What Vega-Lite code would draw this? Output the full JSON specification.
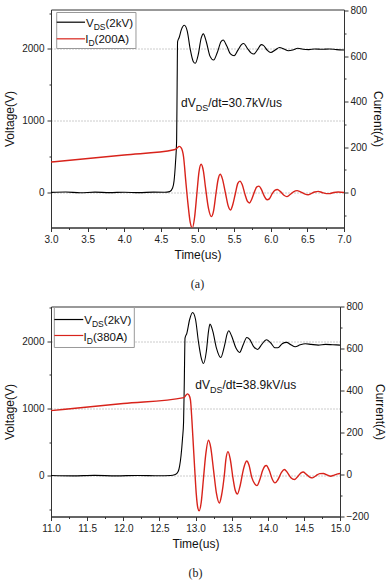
{
"$schema": "https://vega.github.io/schema/vega-lite/v6.json",
"padding": {"left": 3, "top": 4.5, "right": 2, "bottom": 2},
"config": {
  "font": "Liberation Sans",
  "view": {"stroke": "#333", "strokeWidth": 1},
  "axis": {"labelFont": "Liberation Sans", "labelFontSize": 10, "labelColor": "#222", "titleFont": "Liberation Sans", "titleFontSize": 12, "titleFontWeight": "normal", "titleColor": "#111", "domainColor": "#333", "tickColor": "#333", "grid": false, "labelFlush": false},
  "concat": {"spacing": 10},
  "title": {"font": "Liberation Serif", "fontSize": 12, "fontWeight": "normal", "color": "#222"}
},
"datasets": {
  "va": [{"t":3.0,"v":0},{"t":3.2,"v":5},{"t":3.4,"v":-5},{"t":3.6,"v":3},{"t":3.8,"v":-3},{"t":4.0,"v":2},{"t":4.2,"v":-4},{"t":4.4,"v":3},{"t":4.55,"v":2},{"t":4.62,"v":10},{"t":4.66,"v":60},{"t":4.68,"v":160},{"t":4.70,"v":420},{"t":4.715,"v":720},{"t":4.722,"v":1500},{"t":4.728,"v":2100},{"t":4.75,"v":2160},{"t":4.78,"v":2270},{"t":4.82,"v":2330},{"t":4.86,"v":2250},{"t":4.90,"v":2000},{"t":4.94,"v":1830},{"t":4.97,"v":1800},{"t":5.01,"v":1920},{"t":5.05,"v":2150},{"t":5.08,"v":2210},{"t":5.12,"v":2100},{"t":5.17,"v":1900},{"t":5.22,"v":1845},{"t":5.27,"v":1950},{"t":5.32,"v":2100},{"t":5.35,"v":2125},{"t":5.40,"v":2040},{"t":5.45,"v":1930},{"t":5.50,"v":1905},{"t":5.55,"v":1980},{"t":5.60,"v":2060},{"t":5.63,"v":2075},{"t":5.68,"v":2010},{"t":5.73,"v":1945},{"t":5.77,"v":1930},{"t":5.82,"v":1990},{"t":5.87,"v":2060},{"t":5.90,"v":2050},{"t":5.95,"v":1985},{"t":6.00,"v":1950},{"t":6.06,"v":1985},{"t":6.12,"v":2020},{"t":6.18,"v":2000},{"t":6.24,"v":1975},{"t":6.30,"v":1985},{"t":6.37,"v":2010},{"t":6.44,"v":1995},{"t":6.52,"v":1990},{"t":6.6,"v":2000},{"t":6.7,"v":1995},{"t":6.8,"v":2000},{"t":6.9,"v":1990},{"t":7.0,"v":1985}],
  "ia": [{"t":3.0,"a":134},{"t":4.0,"a":165},{"t":4.68,"a":188},{"t":4.72,"a":195},{"t":4.75,"a":203},{"t":4.78,"a":195},{"t":4.81,"a":156},{"t":4.84,"a":50},{"t":4.87,"a":-50},{"t":4.90,"a":-130},{"t":4.93,"a":-156},{"t":4.96,"a":-110},{"t":4.99,"a":-10},{"t":5.02,"a":90},{"t":5.05,"a":124},{"t":5.08,"a":95},{"t":5.11,"a":20},{"t":5.15,"a":-70},{"t":5.19,"a":-106},{"t":5.22,"a":-80},{"t":5.25,"a":-10},{"t":5.28,"a":55},{"t":5.31,"a":80},{"t":5.34,"a":60},{"t":5.38,"a":0},{"t":5.42,"a":-60},{"t":5.45,"a":-77},{"t":5.48,"a":-55},{"t":5.52,"a":0},{"t":5.55,"a":40},{"t":5.58,"a":50},{"t":5.61,"a":35},{"t":5.65,"a":-10},{"t":5.68,"a":-38},{"t":5.71,"a":-46},{"t":5.74,"a":-30},{"t":5.78,"a":5},{"t":5.81,"a":25},{"t":5.84,"a":28},{"t":5.87,"a":15},{"t":5.91,"a":-15},{"t":5.95,"a":-32},{"t":5.98,"a":-28},{"t":6.02,"a":-5},{"t":6.06,"a":10},{"t":6.09,"a":13},{"t":6.13,"a":5},{"t":6.18,"a":-12},{"t":6.22,"a":-18},{"t":6.26,"a":-10},{"t":6.31,"a":3},{"t":6.36,"a":8},{"t":6.40,"a":4},{"t":6.46,"a":-6},{"t":6.51,"a":-10},{"t":6.55,"a":-5},{"t":6.60,"a":2},{"t":6.65,"a":5},{"t":6.70,"a":0},{"t":6.76,"a":-5},{"t":6.80,"a":-5},{"t":6.86,"a":0},{"t":6.92,"a":2},{"t":7.0,"a":0}],
  "vb": [{"t":11.0,"v":0},{"t":11.3,"v":-5},{"t":11.6,"v":3},{"t":11.9,"v":-4},{"t":12.2,"v":2},{"t":12.5,"v":-3},{"t":12.65,"v":0},{"t":12.72,"v":15},{"t":12.76,"v":60},{"t":12.78,"v":140},{"t":12.80,"v":300},{"t":12.82,"v":550},{"t":12.835,"v":800},{"t":12.845,"v":1400},{"t":12.855,"v":2050},{"t":12.88,"v":2120},{"t":12.92,"v":2330},{"t":12.96,"v":2430},{"t":13.00,"v":2330},{"t":13.04,"v":2000},{"t":13.08,"v":1750},{"t":13.11,"v":1670},{"t":13.15,"v":1850},{"t":13.18,"v":2150},{"t":13.20,"v":2257},{"t":13.24,"v":2150},{"t":13.29,"v":1900},{"t":13.35,"v":1760},{"t":13.40,"v":1930},{"t":13.44,"v":2120},{"t":13.46,"v":2158},{"t":13.50,"v":2080},{"t":13.56,"v":1900},{"t":13.61,"v":1835},{"t":13.66,"v":1950},{"t":13.71,"v":2058},{"t":13.75,"v":2030},{"t":13.80,"v":1930},{"t":13.86,"v":1880},{"t":13.92,"v":1960},{"t":13.98,"v":2025},{"t":14.04,"v":1980},{"t":14.10,"v":1905},{"t":14.14,"v":1905},{"t":14.20,"v":1965},{"t":14.26,"v":1985},{"t":14.32,"v":1950},{"t":14.38,"v":1920},{"t":14.45,"v":1950},{"t":14.52,"v":1965},{"t":14.6,"v":1955},{"t":14.7,"v":1945},{"t":14.8,"v":1955},{"t":14.9,"v":1950},{"t":15.0,"v":1945}],
  "ib": [{"t":11.0,"a":304},{"t":12.0,"a":338},{"t":12.84,"a":366},{"t":12.87,"a":378},{"t":12.89,"a":384},{"t":12.91,"a":378},{"t":12.93,"a":355},{"t":12.95,"a":260},{"t":12.97,"a":140},{"t":12.99,"a":20},{"t":13.01,"a":-90},{"t":13.03,"a":-155},{"t":13.05,"a":-173},{"t":13.08,"a":-130},{"t":13.11,"a":-20},{"t":13.14,"a":90},{"t":13.18,"a":163},{"t":13.21,"a":130},{"t":13.25,"a":20},{"t":13.29,"a":-90},{"t":13.33,"a":-136},{"t":13.36,"a":-100},{"t":13.40,"a":0},{"t":13.42,"a":70},{"t":13.45,"a":109},{"t":13.48,"a":75},{"t":13.52,"a":-20},{"t":13.55,"a":-75},{"t":13.58,"a":-93},{"t":13.62,"a":-50},{"t":13.66,"a":20},{"t":13.69,"a":55},{"t":13.71,"a":64},{"t":13.74,"a":45},{"t":13.78,"a":-15},{"t":13.82,"a":-45},{"t":13.85,"a":-53},{"t":13.89,"a":-25},{"t":13.93,"a":20},{"t":13.96,"a":40},{"t":13.98,"a":43},{"t":14.02,"a":20},{"t":14.06,"a":-20},{"t":14.10,"a":-40},{"t":14.14,"a":-25},{"t":14.19,"a":10},{"t":14.23,"a":24},{"t":14.27,"a":10},{"t":14.32,"a":-15},{"t":14.37,"a":-24},{"t":14.41,"a":-12},{"t":14.46,"a":8},{"t":14.49,"a":12},{"t":14.53,"a":2},{"t":14.58,"a":-12},{"t":14.62,"a":-16},{"t":14.67,"a":-5},{"t":14.72,"a":4},{"t":14.77,"a":5},{"t":14.82,"a":-2},{"t":14.87,"a":-8},{"t":14.92,"a":-3},{"t":14.97,"a":3},{"t":15.0,"a":5}],
  "boxa": [{"t":3.078,"t2":4.16,"v":2508,"v2":2006}],
  "blka": [{"t":3.078,"t2":3.464,"v":2373}],
  "reda": [{"t":3.078,"t2":3.464,"v":2141}],
  "txta": [{"t":3.478,"v":2303,"s":"V"},{"t":3.744,"v":2303,"s":"(2kV)"},{"t":3.468,"v":2076,"s":"I"},{"t":3.595,"v":2076,"s":"(200A)"}],
  "suba": [{"t":3.583,"v":2303,"s":"DS"},{"t":3.512,"v":2076,"s":"D"}],
  "anna": [{"t":4.775,"v":1187,"s":"dV"},{"t":5.146,"v":1187,"s":"/dt=30.7kV/us"}],
  "ansa": [{"t":4.975,"v":1187,"s":"DS"}],
  "boxb": [{"t":11.046,"t2":12.153,"v":2505,"v2":1909}],
  "blkb": [{"t":11.046,"t2":11.447,"v":2326}],
  "redb": [{"t":11.046,"t2":11.447,"v":2088}],
  "txtb": [{"t":11.461,"v":2252,"s":"V"},{"t":11.731,"v":2252,"s":"(2kV)"},{"t":11.451,"v":2013,"s":"I"},{"t":11.580,"v":2013,"s":"(380A)"}],
  "subb": [{"t":11.567,"v":2252,"s":"DS"},{"t":11.496,"v":2013,"s":"D"}],
  "annb": [{"t":12.997,"v":1283,"s":"dV"},{"t":13.374,"v":1283,"s":"/dt=38.9kV/us"}],
  "ansb": [{"t":13.201,"v":1283,"s":"DS"}]
},
"vconcat": [
{
  "width": 293, "height": 218,
  "title": {"text": "(a)", "orient": "bottom", "offset": 18},
  "encoding": {
    "x": {"field": "t", "type": "quantitative", "scale": {"domain": [3, 7], "nice": false, "zero": false},
      "axis": {"title": "Time(us)", "values": [3,3.25,3.5,3.75,4,4.25,4.5,4.75,5,5.25,5.5,5.75,6,6.25,6.5,6.75,7], "labelExpr": "(datum.value*2) % 1 === 0 ? format(datum.value, '.1f') : ''", "tickSize": {"condition": {"test": "(datum.value*2) % 1 === 0", "value": 4}, "value": 2}, "labelPadding": 3, "titlePadding": 5}}
  },
  "layer": [
    {
      "encoding": {"y": {"field": "v", "type": "quantitative", "scale": {"domain": [-490, 2550], "nice": false, "zero": false},
        "axis": {"title": "Voltage(V)", "orient": "left", "values": [0,500,1000,1500,2000,2500], "format": "d", "labelExpr": "datum.value % 1000 === 0 ? datum.label : ''", "tickSize": {"condition": {"test": "datum.value % 1000 === 0", "value": 4}, "value": 2}, "grid": true, "gridDash": [1,2], "gridColor": "#999", "gridOpacity": {"condition": {"test": "datum.value % 1000 === 0", "value": 1}, "value": 0}, "labelPadding": 3, "titlePadding": 5}}},
      "layer": [
        {"data": {"name": "boxa"}, "mark": {"type": "rect", "fill": "white", "stroke": "#999", "strokeWidth": 1}, "encoding": {"x2": {"field": "t2"}, "y2": {"field": "v2"}}},
        {"data": {"name": "blka"}, "mark": {"type": "rule", "color": "#000", "strokeWidth": 1.2}, "encoding": {"x2": {"field": "t2"}}},
        {"data": {"name": "reda"}, "mark": {"type": "rule", "color": "#d8231b", "strokeWidth": 1.2}, "encoding": {"x2": {"field": "t2"}}},
        {"data": {"name": "txta"}, "mark": {"type": "text", "align": "left", "baseline": "alphabetic", "fontSize": 11.5, "color": "#111"}, "encoding": {"text": {"field": "s"}}},
        {"data": {"name": "suba"}, "mark": {"type": "text", "align": "left", "baseline": "alphabetic", "fontSize": 8.5, "dy": 3, "color": "#111"}, "encoding": {"text": {"field": "s"}}},
        {"data": {"name": "anna"}, "mark": {"type": "text", "align": "left", "baseline": "alphabetic", "fontSize": 12, "color": "#111"}, "encoding": {"text": {"field": "s"}}},
        {"data": {"name": "ansa"}, "mark": {"type": "text", "align": "left", "baseline": "alphabetic", "fontSize": 9, "dy": 3.5, "color": "#111"}, "encoding": {"text": {"field": "s"}}},
        {"data": {"name": "va"}, "mark": {"type": "line", "color": "#000", "strokeWidth": 1.1, "interpolate": "monotone", "clip": true}}
      ]
    },
    {
      "data": {"name": "ia"},
      "mark": {"type": "line", "color": "#d8231b", "strokeWidth": 1.4, "interpolate": "monotone", "clip": true},
      "encoding": {"y": {"field": "a", "type": "quantitative", "scale": {"domain": [-154, 805], "nice": false, "zero": false},
        "axis": {"title": "Current(A)", "orient": "right", "values": [-100,0,100,200,300,400,500,600,700,800], "labelExpr": "datum.value % 200 === 0 ? datum.label : ''", "tickSize": {"condition": {"test": "datum.value % 200 === 0", "value": 4}, "value": 2}, "labelPadding": 2, "titlePadding": 4}}}
    }
  ],
  "resolve": {"scale": {"y": "independent"}}
},
{
  "width": 289, "height": 210,
  "title": {"text": "(b)", "orient": "bottom", "offset": 18},
  "encoding": {
    "x": {"field": "t", "type": "quantitative", "scale": {"domain": [11, 15], "nice": false, "zero": false},
      "axis": {"title": "Time(us)", "values": [11,11.25,11.5,11.75,12,12.25,12.5,12.75,13,13.25,13.5,13.75,14,14.25,14.5,14.75,15], "labelExpr": "(datum.value*2) % 1 === 0 ? format(datum.value, '.1f') : ''", "tickSize": {"condition": {"test": "(datum.value*2) % 1 === 0", "value": 4}, "value": 2}, "labelPadding": 3, "titlePadding": 5}}
  },
  "layer": [
    {
      "encoding": {"y": {"field": "v", "type": "quantitative", "scale": {"domain": [-610, 2520], "nice": false, "zero": false},
        "axis": {"title": "Voltage(V)", "orient": "left", "values": [-500,0,500,1000,1500,2000,2500], "format": "d", "labelExpr": "datum.value % 1000 === 0 ? datum.label : ''", "tickSize": {"condition": {"test": "datum.value % 1000 === 0", "value": 4}, "value": 2}, "grid": true, "gridDash": [1,2], "gridColor": "#999", "gridOpacity": {"condition": {"test": "datum.value % 1000 === 0", "value": 1}, "value": 0}, "labelPadding": 3, "titlePadding": 5}}},
      "layer": [
        {"data": {"name": "boxb"}, "mark": {"type": "rect", "fill": "white", "stroke": "#999", "strokeWidth": 1}, "encoding": {"x2": {"field": "t2"}, "y2": {"field": "v2"}}},
        {"data": {"name": "blkb"}, "mark": {"type": "rule", "color": "#000", "strokeWidth": 1.2}, "encoding": {"x2": {"field": "t2"}}},
        {"data": {"name": "redb"}, "mark": {"type": "rule", "color": "#d8231b", "strokeWidth": 1.2}, "encoding": {"x2": {"field": "t2"}}},
        {"data": {"name": "txtb"}, "mark": {"type": "text", "align": "left", "baseline": "alphabetic", "fontSize": 11.5, "color": "#111"}, "encoding": {"text": {"field": "s"}}},
        {"data": {"name": "subb"}, "mark": {"type": "text", "align": "left", "baseline": "alphabetic", "fontSize": 8.5, "dy": 3, "color": "#111"}, "encoding": {"text": {"field": "s"}}},
        {"data": {"name": "annb"}, "mark": {"type": "text", "align": "left", "baseline": "alphabetic", "fontSize": 12, "color": "#111"}, "encoding": {"text": {"field": "s"}}},
        {"data": {"name": "ansb"}, "mark": {"type": "text", "align": "left", "baseline": "alphabetic", "fontSize": 9, "dy": 3.5, "color": "#111"}, "encoding": {"text": {"field": "s"}}},
        {"data": {"name": "vb"}, "mark": {"type": "line", "color": "#000", "strokeWidth": 1.1, "interpolate": "monotone", "clip": true}}
      ]
    },
    {
      "data": {"name": "ib"},
      "mark": {"type": "line", "color": "#d8231b", "strokeWidth": 1.4, "interpolate": "monotone", "clip": true},
      "encoding": {"y": {"field": "a", "type": "quantitative", "scale": {"domain": [-200, 800], "nice": false, "zero": false},
        "axis": {"title": "Current(A)", "orient": "right", "values": [-200,-100,0,100,200,300,400,500,600,700,800], "labelExpr": "datum.value % 200 === 0 ? datum.label : ''", "tickSize": {"condition": {"test": "datum.value % 200 === 0", "value": 4}, "value": 2}, "labelPadding": 2, "titlePadding": 4}}}
    }
  ],
  "resolve": {"scale": {"y": "independent"}}
}
]
}
